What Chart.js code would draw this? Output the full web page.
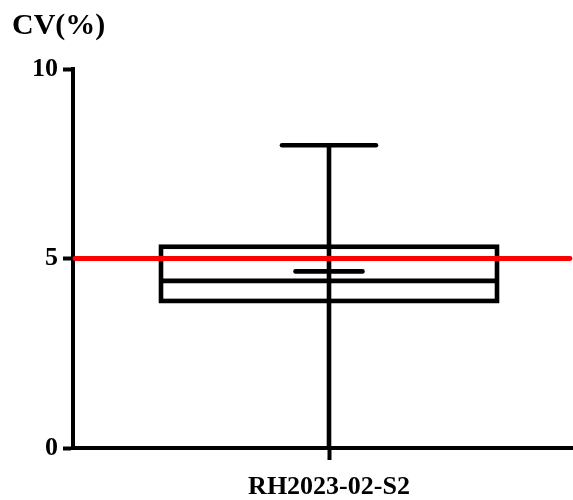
<!DOCTYPE html>
<html><head><meta charset="utf-8">
<script src="https://cdn.jsdelivr.net/npm/chart.js@4/dist/chart.umd.min.js"></script>
<style>
html,body{margin:0;padding:0;overflow:hidden;background:#fff;width:573px;height:500px}
#wrap{position:relative;width:585px;height:500px}
</style></head>
<body><div id="wrap"><canvas id="c" width="585" height="500"></canvas></div>
<script>
const categories = ['RH2023-02-S2'];
const whiskerMin = [0];
const q1 = [3.88];
const median = [4.41];
const q3 = [5.31];
const whiskerMax = [7.99];
const mean = [4.66];
const referenceValue = 5;
const yTicks = [0, 5, 10];

const FONT = {family: "'Liberation Serif','Times New Roman',serif", size: 26, weight: 'bold'};
const TITLE_FONT = {family: "'Liberation Serif','Times New Roman',serif", size: 30, weight: 'bold'};

const boxPlugin = {
  id: 'boxPlot',
  afterDatasetsDraw(chart) {
    const ctx = chart.ctx, xs = chart.scales.x, ys = chart.scales.y, area = chart.chartArea;
    ctx.save();
    ctx.strokeStyle = '#000';
    ctx.lineWidth = 4.6;
    categories.forEach((c, i) => {
      const cx = xs.getPixelForValue(i);
      const half = 168, capHalf = 47, meanHalf = 33.5;
      const yq1 = ys.getPixelForValue(q1[i]), yq3 = ys.getPixelForValue(q3[i]);
      const ymed = ys.getPixelForValue(median[i]);
      const ymin = ys.getPixelForValue(whiskerMin[i]), ymax = ys.getPixelForValue(whiskerMax[i]);
      const ymean = ys.getPixelForValue(mean[i]);
      ctx.lineCap = 'butt';
      ctx.strokeRect(cx - half, yq3, 2 * half, yq1 - yq3);
      ctx.beginPath(); ctx.moveTo(cx - half, ymed); ctx.lineTo(cx + half, ymed); ctx.stroke();
      ctx.beginPath(); ctx.moveTo(cx, ymin); ctx.lineTo(cx, ymax); ctx.stroke();
      ctx.lineCap = 'round';
      ctx.beginPath(); ctx.moveTo(cx - capHalf, ymax); ctx.lineTo(cx + capHalf, ymax); ctx.stroke();
      ctx.beginPath(); ctx.moveTo(cx - meanHalf, ymean); ctx.lineTo(cx + meanHalf, ymean); ctx.stroke();
    });
    const yr = ys.getPixelForValue(referenceValue);
    ctx.strokeStyle = '#ff0000';
    ctx.lineWidth = 4.8;
    ctx.lineCap = 'round';
    ctx.beginPath(); ctx.moveTo(area.left + 2, yr); ctx.lineTo(area.right - 15, yr); ctx.stroke();
    ctx.restore();
  }
};

new Chart(document.getElementById('c'), {
  type: 'bar',
  data: {
    labels: categories,
    datasets: [{
      data: categories.map((c, i) => [q1[i], q3[i]]),
      backgroundColor: 'rgba(0,0,0,0)',
      borderWidth: 0
    }]
  },
  options: {
    responsive: false,
    animation: false,
    layout: {padding: {left: 12, right: 0, top: 0, bottom: 0}},
    plugins: {
      legend: {display: false},
      tooltip: {enabled: false},
      title: {
        display: true, text: 'CV(%)', align: 'start', color: '#000',
        font: TITLE_FONT, padding: {top: 8, bottom: 25}
      }
    },
    scales: {
      x: {
        type: 'category',
        grid: {drawOnChartArea: false, offset: false, tickLength: 12, tickWidth: 4, color: '#000'},
        border: {color: '#000', width: 4},
        ticks: {color: '#000', font: FONT, padding: 12, maxRotation: 0},
        afterFit: s => { s.height = 52; }
      },
      y: {
        min: 0, max: 10,
        afterBuildTicks: s => { s.ticks = yTicks.map(v => ({value: v})); },
        grid: {drawOnChartArea: false, tickLength: 10, tickWidth: 4, color: '#000'},
        border: {color: '#000', width: 4},
        ticks: {color: '#000', font: FONT, padding: 5},
        afterFit: s => { s.width = 61; }
      }
    }
  },
  plugins: [boxPlugin]
});
</script>
</body></html>
